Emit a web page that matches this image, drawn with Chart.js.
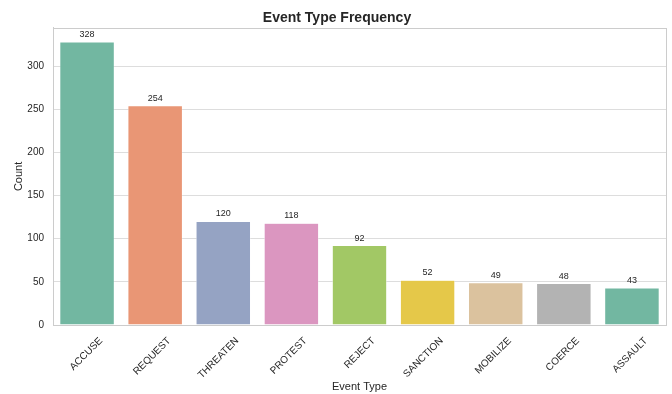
<!DOCTYPE html>
<html>
<head>
<meta charset="utf-8">
<script src="https://cdn.jsdelivr.net/npm/chart.js@4"></script>
<style>
  html, body { margin: 0; padding: 0; background: #fff; }
  #wrap { width: 672px; height: 394px; }
</style>
</head>
<body>
<div id="wrap"><canvas id="chart"></canvas></div>
<script>
// Event type counts
const eventTypes = ["ACCUSE", "REQUEST", "THREATEN", "PROTEST", "REJECT", "SANCTION", "MOBILIZE", "COERCE", "ASSAULT"];
const counts = [328, 254, 120, 118, 92, 52, 49, 48, 43];
const barColors = ["#72b7a1", "#e99675", "#95a3c3", "#db96c0", "#a2c865", "#e5c849", "#dbc29e", "#b3b3b3", "#72b7a1"];
const yTicks = [0, 50, 100, 150, 200, 250, 300];

const textColor = "#262626";
const gridColor = "#dddddd";
const fontFam = "'Liberation Sans', Arial, sans-serif";

// value labels above bars + box around plot
const barLabels = {
  id: "barLabels",
  afterDatasetsDraw(chart) {
    const ctx = chart.ctx;
    const meta = chart.getDatasetMeta(0);
    ctx.save();
    ctx.font = "9px " + fontFam;
    ctx.fillStyle = textColor;
    ctx.textAlign = "center";
    ctx.textBaseline = "bottom";
    meta.data.forEach(function(bar, i) {
      ctx.fillText(String(counts[i]), bar.x, bar.y - 3);
    });
    const a = chart.chartArea;
    ctx.strokeStyle = "#cccccc";
    ctx.lineWidth = 1;
    ctx.strokeRect(Math.round(a.left) + 0.5, Math.round(a.top) + 0.5, Math.round(a.right - a.left), Math.round(a.bottom - a.top));
    ctx.restore();
  }
};

const ctx = document.getElementById("chart").getContext("2d");
new Chart(ctx, {
  type: "bar",
  data: {
    labels: eventTypes,
    datasets: [{
      label: "Count",
      data: counts,
      backgroundColor: barColors,
      borderColor: "#ffffff",
      borderWidth: 0.5,
      barPercentage: 0.8,
      categoryPercentage: 1.0
    }]
  },
  options: {
    responsive: true,
    maintainAspectRatio: false,
    animation: false,
    layout: { padding: { left: 8, right: 6, top: 0, bottom: 0 } },
    plugins: {
      legend: { display: false },
      tooltip: { enabled: false },
      title: {
        display: true,
        text: "Event Type Frequency",
        color: textColor,
        font: { family: fontFam, size: 14, weight: "bold" },
        padding: { top: 10, bottom: 1 }
      }
    },
    scales: {
      x: {
        grid: { display: false },
        border: { color: "#cccccc" },
        afterFit: function(scale) { scale.height = 69; },
        ticks: {
          color: textColor,
          font: { family: fontFam, size: 10 },
          maxRotation: 45,
          minRotation: 45,
          padding: 2,
          labelOffset: 14
        },
        title: {
          display: true,
          text: "Event Type",
          color: textColor,
          font: { family: fontFam, size: 11 },
          padding: { top: 2, bottom: 0 }
        }
      },
      y: {
        min: 0,
        max: 344.4,
        afterBuildTicks: function(scale) {
          scale.ticks = yTicks.map(function(v) { return { value: v }; });
        },
        afterFit: function(scale) { scale.width = 45; },
        grid: { color: gridColor, drawTicks: false },
        border: { color: "#cccccc" },
        ticks: {
          color: textColor,
          font: { family: fontFam, size: 10 },
          padding: 9
        },
        title: {
          display: true,
          text: "Count",
          color: textColor,
          font: { family: fontFam, size: 11 },
          padding: { top: 4, bottom: 0 }
        }
      }
    }
  },
  plugins: [barLabels]
});
</script>
</body>
</html>
